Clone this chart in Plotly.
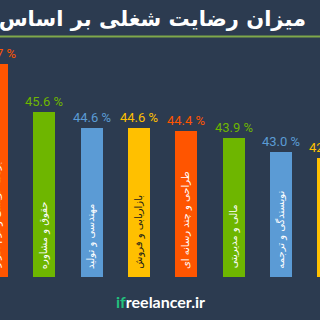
import plotly.graph_objects as go

categories = ["برنامه نویسی و نرم افزار", "حقوق و مشاوره", "مهندسی و تولید", "بازاریابی و فروش",
              "طراحی و چند رسانه ای", "مالی و مدیریتی", "نویسندگی و ترجمه", "آموزش و پژوهش"]
values = [48.7, 45.6, 44.6, 44.6, 44.4, 43.9, 43.0, 42.6]
bar_colors = ["#ff5500", "#6eb600", "#5b9bd5", "#ffc000", "#ff5500", "#6eb600", "#5b9bd5", "#ffc000"]
inner_text_colors = ["white", "white", "white", "#1a1a1a", "white", "white", "white", "#1a1a1a"]
title = "میزان رضایت شغلی بر اساس تخصص"

BG = "#2c3b50"
idx = list(range(len(categories)))
X0, X1 = 0.063, 0.063 + 320 / 47.3
Y0, Y1 = 34.9, 34.9 + 237 / 15.4


def xp(i):
    return (i - X0) / (X1 - X0)


def yp(v):
    return (v - Y0) / (Y1 - Y0)


fig = go.Figure()
fig.add_trace(go.Bar(
    x=idx, y=values, base=0, width=0.465,
    marker=dict(color=bar_colors, line=dict(width=0)),
    hoverinfo="skip",
))

annotations = []
for i, (c, v, col, tc) in enumerate(zip(categories, values, bar_colors, inner_text_colors)):
    annotations.append(dict(
        x=xp(i), y=yp(35.3), xref="paper", yref="paper", text=c, showarrow=False,
        textangle=-90, xanchor="center", yanchor="bottom",
        font=dict(family="DejaVu Sans, sans-serif", size=10, color=tc),
    ))
    annotations.append(dict(
        x=xp(i), y=yp(v), xref="paper", yref="paper", text=f"{v:.1f} %", showarrow=False,
        xanchor="center", yanchor="bottom", yshift=1,
        font=dict(family="Roboto, sans-serif", size=13, color=col),
    ))

annotations.append(dict(
    x=308 / 320, y=1.087, xref="paper", yref="paper", text=title,
    showarrow=False, xanchor="right", yanchor="middle", width=308, align="right",
    font=dict(family="DejaVu Sans, sans-serif", size=21, color="white", weight="bold"),
))
annotations.append(dict(
    x=0.5, y=-0.105, xref="paper", yref="paper",
    text="<span style='color:#22c07e'>if</span>reelancer.ir",
    showarrow=False, xanchor="center", yanchor="middle",
    font=dict(family="Lato, DejaVu Sans, sans-serif", size=16, color="white", weight="bold"),
))

fig.update_layout(
    width=320, height=320,
    margin=dict(l=0, r=0, t=40, b=43, pad=0),
    paper_bgcolor=BG, plot_bgcolor=BG,
    showlegend=False,
    bargap=0,
    xaxis=dict(range=[X0, X1], visible=False, fixedrange=True),
    yaxis=dict(range=[Y0, Y1], visible=False, fixedrange=True),
    annotations=annotations,
    shapes=[dict(type="line", xref="paper", yref="paper", x0=0, x1=1,
                 y0=1.0148, y1=1.0148, line=dict(color="#7fa84a", width=2))],
)

fig.write_html("out.html", config=dict(displayModeBar=False))
